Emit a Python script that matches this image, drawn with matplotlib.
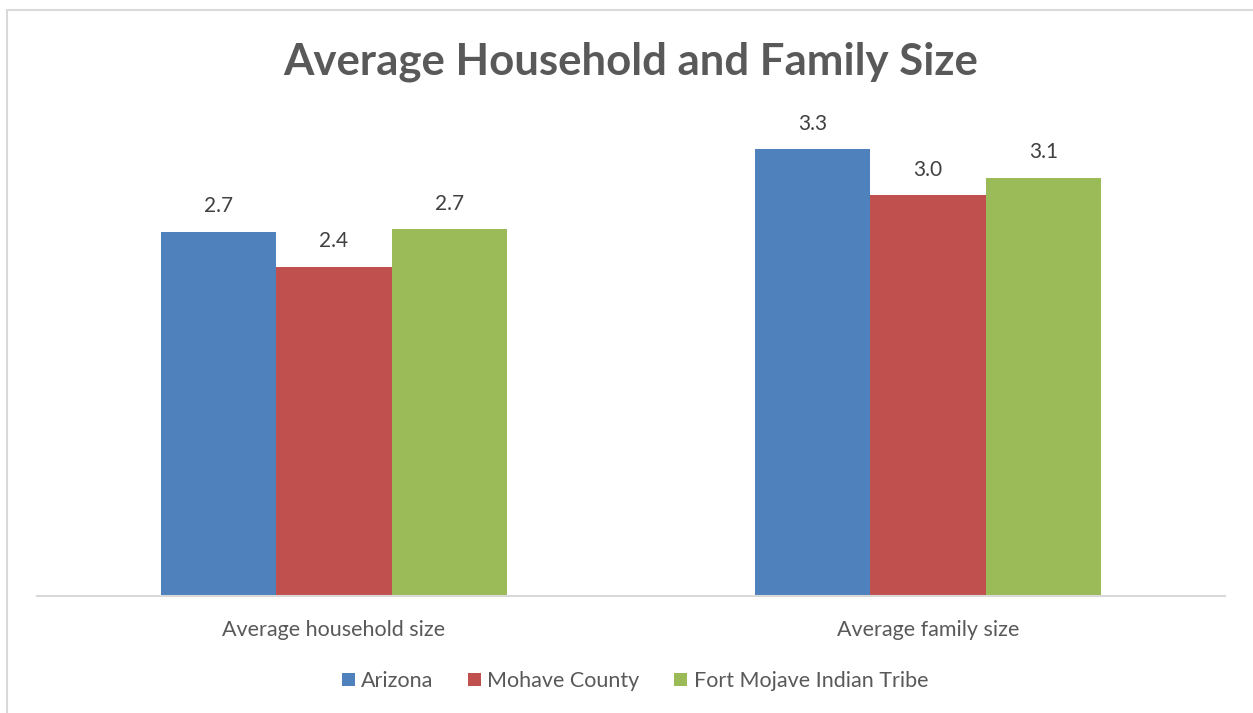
import numpy as np
import matplotlib
matplotlib.use("Agg")
import matplotlib.pyplot as plt
from matplotlib.patches import Rectangle

plt.rcParams['font.family'] = ['Lato', 'DejaVu Sans']

## data
categories = ["Average household size", "Average family size"]
series = ["Arizona", "Mohave County", "Fort Mojave Indian Tribe"]
arizona = [2.70, 3.31]
mohave = [2.44, 2.97]
fort_mojave = [2.72, 3.10]
colors = ["#4F81BD", "#C0504D", "#9BBB59"]

W, H = 1253, 713
fig = plt.figure(figsize=(W / 100, H / 100), dpi=100)

## light frame around the chart area (cut off at right/bottom like the source)
fig.patches.append(Rectangle((7 / W, -0.05), 1.2, 1 - 10 / H + 0.05,
                             transform=fig.transFigure, fill=False,
                             edgecolor="#d9d9d9", linewidth=1.5))

ax = fig.add_axes([37 / W, 1 - 596 / H, (1225 - 37) / W, (596 - 110) / H])

x = np.arange(len(categories))
width = 0.194
for i, (name, vals) in enumerate(zip(series, [arizona, mohave, fort_mojave])):
    bars = ax.bar(x + (i - 1) * width, vals, width, color=colors[i], label=name)
    for b, v in zip(bars, vals):
        ax.annotate("%.1f" % v, (b.get_x() + b.get_width() / 2, v),
                    xytext=(0, 11), textcoords="offset points",
                    ha="center", va="bottom", fontsize=15, color="#404040")

ax.set_xlim(-0.5, 1.5)
ax.set_ylim(0, 3.6)
ax.set_yticks([])
ax.set_xticks(x)
ax.set_xticklabels(categories, fontsize=15.5, color="#595959")
ax.tick_params(axis="x", length=0, pad=17)
for s in ["top", "right", "left"]:
    ax.spines[s].set_visible(False)
ax.spines["bottom"].set_color("#d9d9d9")
ax.spines["bottom"].set_linewidth(1.5)

fig.text(0.503, 1 - 62 / H, "Average Household and Family Size", ha="center",
         va="center", fontsize=31.5, fontweight="bold", color="#595959")

fig.legend(loc="center", bbox_to_anchor=(635 / W, 1 - 681 / H), ncol=3,
           frameon=False, fontsize=15.5, handlelength=0.6, handleheight=0.6,
           handletextpad=0.3, columnspacing=1.6, labelcolor="#595959")

fig.savefig("out.png", dpi=100)
